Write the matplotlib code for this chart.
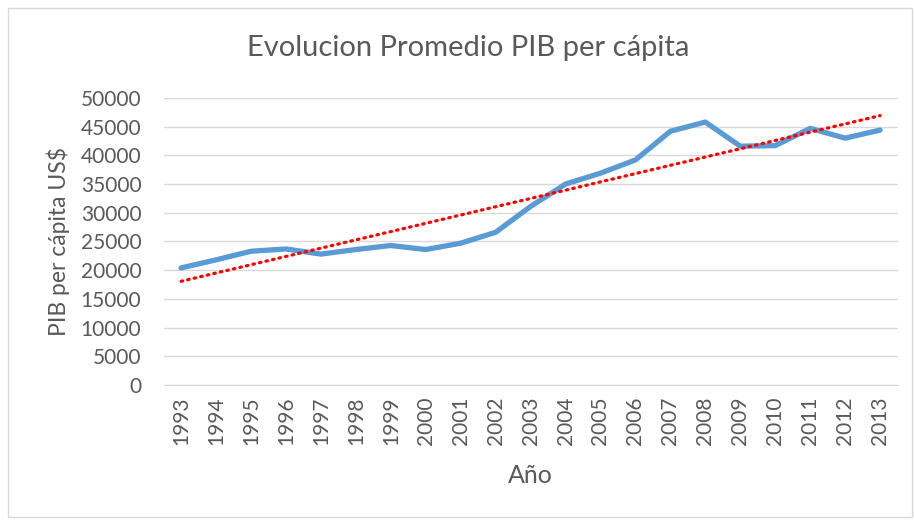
import numpy as np
import matplotlib.pyplot as plt
from matplotlib.patches import Rectangle

# -------------------------
# Data
# -------------------------
years = [str(y) for y in range(1993, 2014)]
pib = [20400, 21800, 23300, 23700, 22800, 23600, 24300, 23600, 24700, 26600,
       31100, 35000, 36900, 39200, 44200, 45800, 41600, 41700, 44700, 43000,
       44400]
y_ticks = list(range(0, 50001, 5000))

TEXT = "#595959"
GRID = "#D9D9D9"

plt.rcParams["font.family"] = ["Lato", "DejaVu Sans"]

# -------------------------
# Plot
# -------------------------
fig = plt.figure(figsize=(9.14, 5.21), dpi=100)
fig.patches.append(Rectangle((0.009, 0.008), 0.989, 0.977, transform=fig.transFigure,
                             fill=False, edgecolor=GRID, linewidth=1))
ax = fig.add_axes([0.179, 0.261, 0.803, 0.551])

x = np.arange(len(years))
ax.plot(x, pib, color="#5B9BD5", linewidth=3.8, solid_capstyle="round", zorder=3)

# linear trendline
coef = np.polyfit(x, pib, 1)
ax.plot(x, np.polyval(coef, x), color="#FF0000", linewidth=2.3,
        linestyle=(0, (0.5, 1.6)), dash_capstyle="round", zorder=4)

ax.set_xlim(-0.5, len(years) - 0.5)
ax.set_ylim(0, 50000)
ax.set_xticks(x)
ax.set_xticklabels(years, rotation=90, fontsize=15, color=TEXT)
ax.set_yticks(y_ticks)
ax.set_yticklabels([str(v) for v in y_ticks], fontsize=15, color=TEXT)
ax.tick_params(axis="x", length=0, pad=8)
ax.tick_params(axis="y", length=0, pad=16)

ax.grid(axis="y", color=GRID, linewidth=1)
ax.set_axisbelow(True)
for s in ["top", "right", "left"]:
    ax.spines[s].set_visible(False)
ax.spines["bottom"].set_color(GRID)

ax.set_xlabel("Año", fontsize=18, color=TEXT, labelpad=14)
ax.set_ylabel("PIB per cápita US$", fontsize=16.5, color=TEXT, labelpad=8)
fig.text(0.512, 0.908, "Evolucion Promedio PIB per cápita", ha="center", va="center",
         fontsize=21, color=TEXT)

plt.savefig("out.png", dpi=100)
plt.close()
